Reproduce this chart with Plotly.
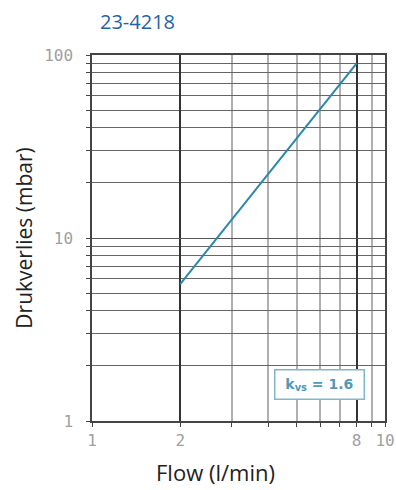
import plotly.graph_objects as go

flow = [2, 8]
pressure_drop = [5.6, 90]
x_major = [1, 2, 8, 10]
x_major_labels = ["1", "2", "8", "10"]
x_minor = [3, 4, 5, 6, 7, 9]
y_major = [1, 10, 100]
y_major_labels = ["1", "10", "100"]
y_minor = [2, 3, 4, 5, 6, 7, 8, 9, 20, 30, 40, 50, 60, 70, 80, 90]

fig = go.Figure()
fig.add_trace(go.Scatter(x=flow, y=pressure_drop, mode="lines",
                         line=dict(color="#2a88a8", width=2), showlegend=False))

tick_font = dict(family="DejaVu Sans Mono", color="#a0a0a0", size=16)
fig.update_layout(
    width=396, height=490,
    margin=dict(l=92, r=11, t=55, b=69),
    paper_bgcolor="white", plot_bgcolor="white",
    font=dict(family="Open Sans", color="#999999", size=13),
    xaxis=dict(type="log", range=[0, 1], tickvals=x_major, ticktext=x_major_labels,
               automargin=False,
               showgrid=True, gridcolor="#333333", gridwidth=1.5,
               showline=True, linecolor="#444444", linewidth=1.5, mirror=True,
               ticks="outside", ticklen=4, tickcolor="#444444",
               minor=dict(tickvals=x_minor, showgrid=True, gridcolor="#b0b0b0", gridwidth=1.5,
                          ticks="outside", ticklen=4, tickcolor="#444444"),
               zeroline=False, tickfont=tick_font),
    yaxis=dict(type="log", range=[0, 2], tickvals=y_major, ticktext=y_major_labels,
               automargin=False,
               showgrid=True, gridcolor="#555555", gridwidth=1,
               showline=True, linecolor="#444444", linewidth=1.5, mirror=True,
               ticks="outside", ticklen=4, tickcolor="#444444",
               minor=dict(tickvals=y_minor, showgrid=True, gridcolor="#666666", gridwidth=1,
                          ticks="outside", ticklen=4, tickcolor="#444444"),
               zeroline=False, tickfont=tick_font, ticklabelstandoff=10,
               title=dict(text="Drukverlies (mbar)", font=dict(family="Open Sans", size=21, color="#222222"),
                          standoff=6)),
)

fig.add_annotation(xref="paper", yref="paper", x=0.02, y=1.0, xanchor="left", yanchor="bottom",
                   yshift=18, text="23-4218", showarrow=False,
                   font=dict(family="Open Sans", size=20, color="#1f64a6"))
fig.add_annotation(xref="paper", yref="paper", x=0.42, y=0, xanchor="center", yanchor="top",
                   yshift=-34, text="Flow (l/min)", showarrow=False,
                   font=dict(family="Open Sans", size=22, color="#222222"))
fig.add_annotation(xref="paper", yref="paper", x=0.778, y=0.1, xanchor="center", yanchor="middle",
                   text="<b> k<sub>vs</sub> = 1.6 </b>", showarrow=False,
                   font=dict(family="DejaVu Sans", size=14, color="#4f9ab5"),
                   bgcolor="white", bordercolor="#7fb8cc", borderwidth=1.5, borderpad=5)

fig.write_html("out.html", post_script="document.body.style.margin='0';",
               config={"displayModeBar": False})
